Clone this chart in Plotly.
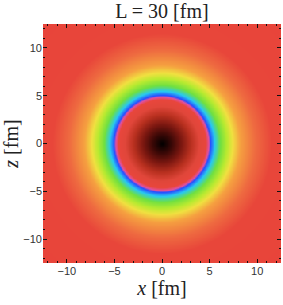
import numpy as np
import plotly.graph_objects as go

# Radial colour profile (radius in fm -> colour)
radius_stops = [0.0, 1.0, 2.0, 3.0, 3.9, 4.6, 4.88, 5.08, 5.5, 6.1, 6.8, 7.4, 8.2, 9.8, 11.5, 18.0]
stop_colors = ["#000000", "#3a0806", "#7a1710", "#b8301f", "#e0463a", "#e8463c",
               "#e0509e", "#2850ff", "#28c8f0", "#70e040", "#b8ea30", "#f0e040",
               "#f5a040", "#ee6a40", "#e8463a", "#e8443a"]

x_range = [-12.5, 12.5]
tick_vals = [-10, -5, 0, 5, 10]
title_text = "L = 30 [fm]"

x = np.linspace(x_range[0], x_range[1], 301)
z_ax = np.linspace(x_range[0], x_range[1], 301)
X, Z = np.meshgrid(x, z_ax)
R = np.sqrt(X**2 + Z**2)

rmax = radius_stops[-1]
colorscale = [[r / rmax, c] for r, c in zip(radius_stops, stop_colors)]

fig = go.Figure(go.Heatmap(x=x, y=z_ax, z=R, zmin=0, zmax=rmax,
                           colorscale=colorscale, showscale=False, zsmooth="best",
                           hoverinfo="skip"))

serif = "'Liberation Serif', 'DejaVu Serif', serif"
axis_common = dict(range=x_range, tickvals=tick_vals, ticks="inside", ticklen=4,
                   tickcolor="#111", mirror="allticks", showline=False,
                   showgrid=False, zeroline=False, automargin=False,
                   tickfont=dict(family="'Liberation Sans', Arial, sans-serif", size=11, color="#333"),
                   minor=dict(dtick=1, ticks="inside", ticklen=2, tickcolor="#111"))

fig.update_layout(
    width=283, height=305,
    margin=dict(l=43, r=2, t=24, b=42),
    paper_bgcolor="white", plot_bgcolor="white",
    title=dict(text=title_text, x=0.5724, xanchor="center", y=0.963, yanchor="middle",
               font=dict(family=serif, size=20, color="#222")),
    xaxis=dict(title=dict(text="<i>x</i> [fm]", font=dict(family=serif, size=20, color="#222"), standoff=4),
               **axis_common),
    yaxis=dict(title=dict(text="<i>z</i> [fm]", font=dict(family=serif, size=20, color="#222"), standoff=6),
               **axis_common),
)

fig.write_html("out.html", config={"displayModeBar": False},
               post_script="document.body.style.margin='0px';")
